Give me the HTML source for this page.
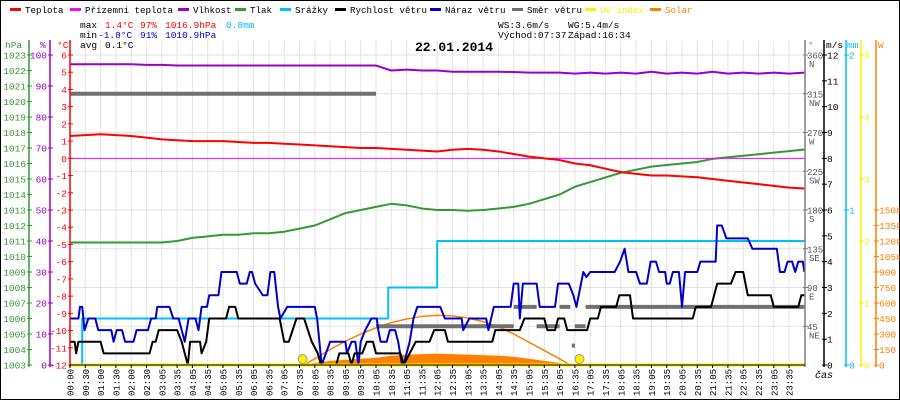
<!DOCTYPE html>
<html><head><meta charset="utf-8"><style>
html,body{margin:0;padding:0;background:#fff}
svg{display:block;font-family:"Liberation Mono","DejaVu Sans Mono",monospace}
</style></head><body>
<svg id="c" width="900" height="400" viewBox="0 0 900 400" xmlns="http://www.w3.org/2000/svg">
<rect x="0.5" y="0.5" width="899" height="399" fill="#fff" stroke="#000"/>
<g id="grid"></g>
<g id="series"></g>
<g id="axes"></g>
<g id="legend" font-size="9.5"></g>
<g font-size="9.5">
<text x="80" y="28">max</text>
<text x="105" y="28" fill="#f00">1.4°C</text>
<text x="140" y="28" fill="#f00">97%</text>
<text x="165" y="28" fill="#f00">1016.9hPa</text>
<text x="226" y="28" fill="#00bfff">0.8mm</text>
<text x="80" y="38">min</text>
<text x="98" y="38" fill="#0000cc">-1.8°C</text>
<text x="140" y="38" fill="#0000cc">91%</text>
<text x="165" y="38" fill="#0000cc">1010.9hPa</text>
<text x="80" y="48">avg</text>
<text x="105" y="48">0.1°C</text>
<text x="498" y="28">WS:3.6m/s</text>
<text x="568" y="28">WG:5.4m/s</text>
<text x="498" y="38">Východ:07:37</text>
<text x="568" y="38">Západ:16:34</text>
</g>
<text x="415" y="51" font-size="13" font-weight="bold">22.01.2014</text>
<text x="815" y="378" font-size="10" font-style="italic">čas</text>
</svg>
<script>
const timeLabels=["00:00","00:30","01:00","01:30","02:00","02:30","03:05","03:35","04:05","04:35","05:05","05:35","06:05","06:35","07:05","07:35","08:05","08:35","09:05","09:35","10:05","10:35","11:05","11:35","12:05","12:35","13:05","13:35","14:05","14:35","15:05","15:35","16:05","16:35","17:05","17:35","18:05","18:35","19:05","19:35","20:05","20:35","21:05","21:35","22:05","22:35","23:05","23:35"];
const temp=[1.3,1.35,1.4,1.35,1.3,1.2,1.1,1.05,1.0,1.0,1.0,0.95,0.9,0.9,0.85,0.8,0.75,0.7,0.65,0.6,0.6,0.55,0.5,0.45,0.4,0.5,0.55,0.5,0.4,0.25,0.1,0.0,-0.1,-0.3,-0.4,-0.6,-0.8,-0.9,-1.0,-1.0,-1.05,-1.1,-1.2,-1.3,-1.4,-1.5,-1.6,-1.7,-1.75];
const dew=[0,0,0,0,0,0,0,0,0,0,0,0,0,0,0,0,0,0,0,0,0,0,0,0,0,0,0,0,0,0,0,0,0,0,0,0,0,0,0,0,0,0,0,0,0,0,0,0,0];
const hum=[97,97,97,97,97,96.8,96.8,96.6,96.6,96.6,96.6,96.6,96.6,96.6,96.6,96.6,96.6,96.6,96.6,96.6,96.6,95,95.3,95,95,94.6,94.6,94.6,94.6,94.5,94.3,94.3,94.3,94,94.3,94,94.3,94,94.6,94,94.3,94,94.6,94,94.3,94,94.3,94,94.3];
const press=[1010.9,1010.9,1010.9,1010.9,1010.9,1010.9,1010.9,1011.0,1011.2,1011.3,1011.4,1011.4,1011.5,1011.5,1011.6,1011.8,1012.0,1012.4,1012.8,1013.0,1013.2,1013.4,1013.3,1013.1,1013.0,1013.0,1012.95,1013.0,1013.1,1013.2,1013.4,1013.7,1014.0,1014.5,1014.8,1015.1,1015.4,1015.6,1015.8,1015.9,1016.0,1016.1,1016.3,1016.4,1016.5,1016.6,1016.7,1016.8,1016.9];
const rainT=[0,0.8,20.8,24.0,48];
const rainV=[0,0.3,0.5,0.8,0.8];
const windT=[0,0.3,0.4,0.55,2.0,2.2,5.2,5.4,5.6,5.8,7.0,7.3,7.5,7.7,7.85,8.5,8.6,8.9,9.1,10.2,10.4,10.8,11.0,13.7,14.0,14.3,14.8,15.3,15.8,16.2,16.4,17.4,17.6,18.2,18.4,18.6,19.1,19.4,19.8,20.0,21.6,21.8,22.6,23.5,23.8,24.5,24.7,27.6,27.8,29.4,29.7,31.0,31.2,31.7,31.9,32.3,32.5,33.8,34.0,34.5,34.7,35.7,35.9,36.6,36.8,40.7,40.9,41.9,42.3,43.2,43.5,44.0,44.3,45.8,46.0,47.6,47.8,48];
const windV=[0.9,0.9,0.45,0.9,0.9,0.45,0.45,0.9,0.9,1.35,1.35,0.9,0.45,0,0.9,0.9,0.45,0.9,1.8,1.8,2.25,2.25,1.8,1.8,0.9,0.9,1.8,1.8,0.9,0.45,0,0,0.45,0.45,0,0.45,0.45,0.9,0.9,0.45,0.45,0,0.9,0.9,1.35,1.35,0.9,0.9,1.35,1.35,1.8,1.8,1.35,1.35,1.8,1.8,1.35,1.35,1.8,1.8,2.25,2.25,2.7,2.7,1.8,1.8,2.25,2.25,3.15,3.15,3.6,3.6,2.7,2.7,2.25,2.25,2.7,2.7];
const gustT=[0,0.55,0.65,0.8,0.95,1.2,1.65,1.85,2.7,2.85,3.05,3.4,3.6,4.15,4.35,5.1,5.3,5.6,5.7,6.5,6.75,7.1,7.3,7.5,7.75,8.2,8.4,8.6,8.95,9.1,9.7,9.9,10.9,11.1,11.55,11.75,11.9,12.1,12.6,12.9,13.1,13.35,13.6,13.75,14.2,16.0,16.15,16.45,17.0,18.0,18.1,18.4,18.65,18.85,19.0,19.3,19.7,20.05,20.15,20.3,20.7,20.9,21.25,21.45,21.7,21.8,22.2,22.45,22.7,24.2,24.5,25.6,25.7,26.1,27.2,27.35,27.7,28.8,29.0,29.3,29.4,29.6,30.5,30.7,31.7,31.9,32.6,32.9,33.1,33.55,33.75,34.0,35.6,35.95,36.25,36.5,37.0,37.25,37.7,37.95,38.3,38.5,38.9,39.0,39.2,39.4,39.8,40.0,40.2,41.0,41.2,42.2,42.3,42.6,42.9,44.3,44.6,46.2,46.4,46.7,46.9,47.2,47.4,47.6,47.9,48];
const gustV=[1.8,1.8,2.25,2.25,1.35,1.8,1.8,1.35,1.35,0.9,1.35,1.35,0.9,0.9,1.35,1.35,1.8,1.8,2.25,2.25,1.8,1.8,1.35,0.9,1.8,1.8,1.35,2.25,2.25,2.7,2.7,3.6,3.6,3.15,3.15,3.6,3.6,3.15,2.7,2.7,3.6,3.6,2.25,1.8,2.25,2.25,1.8,0,0.9,0.9,0.45,0.9,0.9,0,0.9,1.35,1.8,1.8,1.35,0.9,0.9,1.35,1.35,0.9,0,0,0.9,1.8,2.25,2.25,1.8,1.8,1.35,1.8,1.8,1.35,2.25,2.25,3.15,3.15,1.8,3.15,3.15,2.25,2.25,3.15,3.15,2.7,2.25,3.6,3.4,3.6,3.6,4.0,4.5,3.6,3.6,3.15,3.15,4.0,4.0,3.6,3.6,3.15,3.15,3.6,3.6,2.25,3.6,3.6,4.0,4.0,5.4,5.4,4.9,4.9,4.5,4.5,3.6,3.6,4.0,4.0,3.6,4.0,4.0,3.6];
const dirStart=[0,20,29,30.5,32,32.8,33,33.7];
const dirEnd=[20,29,30.5,32,32.7,33.0,33.7,48];
const dirVal=[315,45,67.5,45,67.5,22.5,45,67.5];
const solarT=[15,16,17,18,19,20,21,22,23,24,25,26,27,28,29,30,31,32,32.7];
const solarV=[0,20,40,50,60,70,90,100,105,110,105,100,95,90,80,60,40,20,0];
const solarMaxT=[15.3,16,17,18,19,20,21,22,23,24,25,26,27,28,29,30,31,32,32.7];
const solarMaxV=[0,60,150,230,300,360,410,445,470,480,475,455,420,370,300,220,140,60,0];
const sunEvents=[15.2,33.3];
const hpaTicks=[1003,1004,1005,1006,1007,1008,1009,1010,1011,1012,1013,1014,1015,1016,1017,1018,1019,1020,1021,1022,1023];
const pctTicks=[0,10,20,30,40,50,60,70,80,90,100];
const tempTicks=[-12,-11,-10,-9,-8,-7,-6,-5,-4,-3,-2,-1,0,1,2,3,4,5,6];
const dirTicks=[45,90,135,180,225,270,315,360];
const dirNames=["NE","E","SE","S","SW","W","NW","N"];
const msTicks=[0,1,2,3,4,5,6,7,8,9,10,11,12];
const mmTicks=[0,1,2];
const uvTicks=[0,1,2,3,4,5];
const wTicks=[0,150,300,450,600,750,900,1050,1200,1350,1500];

const NS="http://www.w3.org/2000/svg";
const T=55,B=365,L=70,H=310;
const xi=i=>L+i*15.3;
const yT=t=>T+(6-t)*H/18, yH=p=>T+(1023-p)*15.5, yP=h=>T+(100-h)*3.1;
const yV=v=>B-v*H/12, yD=d=>B-d*H/360, yR=m=>B-m*155, yW=w=>B-w*H/3000, yU=u=>B-u*62;
function el(tag,attrs,parent,txt){const e=document.createElementNS(NS,tag);for(const k in attrs)e.setAttribute(k,attrs[k]);if(txt!==undefined)e.textContent=txt;parent.appendChild(e);return e;}
const grid=document.getElementById('grid'),ser=document.getElementById('series'),ax=document.getElementById('axes'),lg=document.getElementById('legend');
for(let i=0;i<timeLabels.length;i++){const g=el('line',{x1:xi(i),x2:xi(i),y1:40,y2:B,stroke:'#e6e2e2'},grid);

}
for(let k=0;k<=8;k++){const g=el('line',{x1:L,x2:805,y1:T+k*H/8,y2:T+k*H/8,stroke:'#e6e2e2'},grid);

}
function poly(xs,ys,color,w,name){const p=el('polyline',{points:xs.map((x,k)=>x+','+ys[k]).join(' '),fill:'none',stroke:color,'stroke-width':w,'stroke-linejoin':'round'},ser);

return p;}
const idx=temp.map((_,i)=>xi(i));
{const pts=solarT.map((t,k)=>xi(t)+','+yW(solarV[k])).join(' ');const p=el('polygon',{points:pts+' '+xi(solarT[solarT.length-1])+','+B+' '+xi(solarT[0])+','+B,fill:'#ff8000'},ser);

}
poly(solarMaxT.map(xi),solarMaxV.map(yW),'#ff8000',1.5,'solar-max-line');
poly(idx,press.map(yH),'#339933',2,'pressure-line');
poly(idx,hum.map(yP),'#9900cc',2,'humidity-line');
poly(idx,dew.map(yT),'#ff00ff',1,'dewpoint-line');
poly(idx,temp.map(yT),'#ff0000',2,'temperature-line');
{const xs=[],ys=[];rainT.forEach((t,k)=>{if(k>0){xs.push(xi(t));ys.push(yR(rainV[k-1]));}xs.push(xi(t));ys.push(yR(rainV[k]));});poly(xs,ys,'#00bfff',2,'rain-line');}
dirStart.forEach((s,k)=>{const r=el('line',{x1:xi(s),x2:xi(dirEnd[k]),y1:yD(dirVal[k]),y2:yD(dirVal[k]),stroke:'#707070','stroke-width':4},ser);

});
poly(gustT.map(xi),gustV.map(yV),'#0000cc',2,'wind-gust-line');
poly(windT.map(xi),windV.map(yV),'#000',2,'wind-speed-line');
{const l=el('line',{x1:L,x2:805,y1:B,y2:B,stroke:'#ffee00','stroke-width':3},ser);

}
sunEvents.forEach(t=>{const c=el('circle',{cx:xi(t),cy:B-6,r:4.5,fill:'#ffee00',stroke:'#999','stroke-width':1},ser);

});
function vaxis(x,color,ticks,yf,fmt,side,name,head,hx){el('line',{x1:x,x2:x,y1:40,y2:B+2,stroke:color,'stroke-width':1.5},ax);
ticks.forEach(v=>{const y=yf(v);el('line',{x1:x-2,x2:x+3,y1:y,y2:y,stroke:color},ax);
const t=el('text',{x:side<0?x-3:x+3,y:y+3.5,fill:color,'font-size':9.5,'text-anchor':side<0?'end':'start'},ax,fmt(v));

});
const h=el('text',{x:hx,y:48,fill:color,'font-size':9.5},ax,head);

}
vaxis(29,'#339933',hpaTicks,yH,v=>v,-1,'hpa-axis','hPa',5);
vaxis(50,'#9900cc',pctTicks,yP,v=>v,-1,'humidity-axis','%',40);
vaxis(70,'#ff0000',tempTicks,yT,v=>v,-1,'temp-axis','°C',57);
vaxis(805,'#808080',[],yD,v=>v,1,'direction-axis','°',808);
dirTicks.forEach((d,k)=>{const y=yD(d);el('line',{x1:803,x2:808,y1:y,y2:y,stroke:'#808080'},ax);
const t=el('text',{x:807,y:y+3.5,'font-size':9,fill:'#555'},ax,d);


const n=el('text',{x:809,y:y+12,'font-size':9,fill:'#555'},ax,dirNames[k]);

});
vaxis(824,'#000',msTicks,yV,v=>v,1,'wind-axis','m/s',826);
vaxis(846,'#00bfff',mmTicks,yR,v=>v,1,'rain-axis','mm',847);
vaxis(861,'#ffee00',uvTicks,yU,v=>v,1,'uv-axis','',862);
vaxis(876,'#ff8000',wTicks,yW,v=>v,1,'solar-axis','W',878);
el('line',{x1:L,x2:805,y1:B,y2:B,stroke:'#000'},ax);
timeLabels.forEach((s,i)=>{const x=xi(i);el('line',{x1:x,x2:x,y1:B,y2:B+3,stroke:'#000'},ax);
const t=el('text',{x:0,y:0,'font-size':9,transform:`translate(${x+3.5},396) rotate(-90)`},ax,s);

});
const legNames=["Teplota","Přízemní teplota","Vlhkost","Tlak","Srážky","Rychlost větru","Náraz větru","Směr větru","UV index","Solar"];
const legColors=["#ff0000","#ff00ff","#9900cc","#339933","#00bfff","#000000","#0000cc","#707070","#ffee00","#ff8000"];
const legX=[10,70,178,235,280,335,430,512,585,650];
legNames.forEach((n,k)=>{const g=el('g',{},lg);


el('rect',{x:legX[k],y:8,width:11,height:3,fill:legColors[k]},g);
el('text',{x:legX[k]+15,y:13,fill:(k>=8?legColors[k]:'#000'),textLength:n.length*5.5,lengthAdjust:'spacingAndGlyphs'},g,n);});
</script>
</body></html>
